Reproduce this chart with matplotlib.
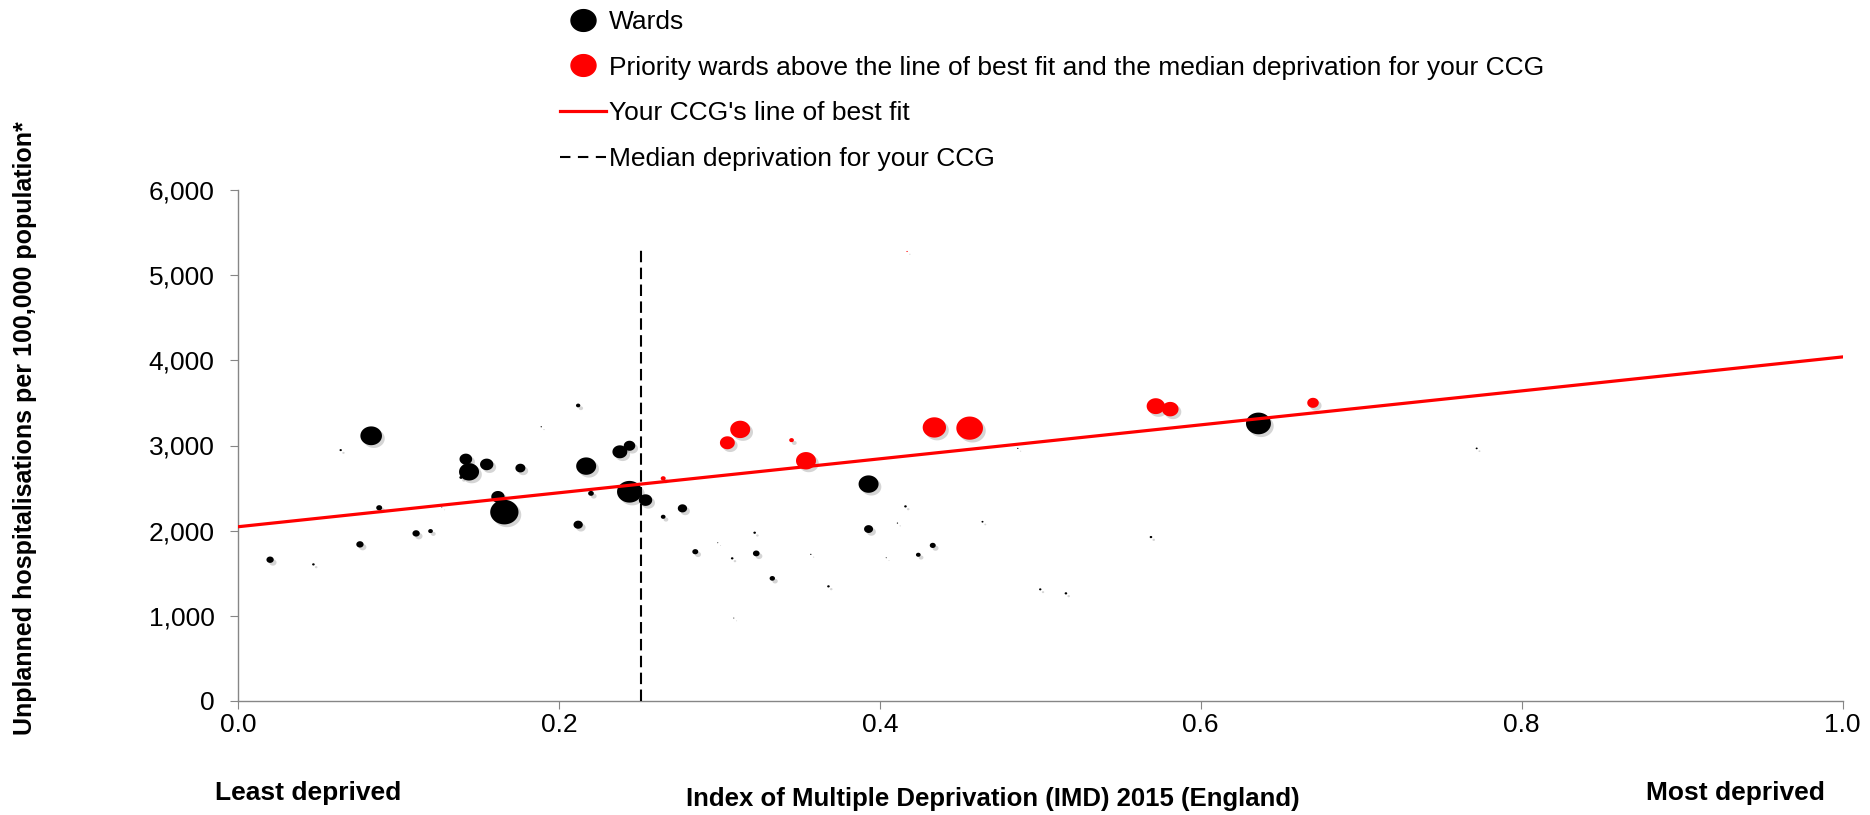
import numpy as np
import matplotlib.pyplot as plt
import matplotlib.transforms as mtransforms
from matplotlib.path import Path
from matplotlib.lines import Line2D

plt.rcParams['font.family'] = ['Liberation Sans', 'DejaVu Sans']

# wards: IMD 2015 score, unplanned hospitalisations per 100,000, relative population
ward_imd = [0.020, 0.047, 0.064, 0.083, 0.076, 0.088, 0.111, 0.120, 0.127, 0.142,
            0.144, 0.139, 0.155, 0.162, 0.166, 0.176, 0.189, 0.212, 0.217, 0.212,
            0.220, 0.238, 0.244, 0.244, 0.254, 0.265, 0.277, 0.285, 0.299, 0.308,
            0.309, 0.322, 0.323, 0.333, 0.357, 0.368, 0.393, 0.393, 0.404, 0.411,
            0.416, 0.424, 0.433, 0.464, 0.486, 0.500, 0.516, 0.569, 0.636, 0.772]
ward_rate = [1659, 1604, 2946, 3114, 1839, 2269, 1968, 1995, 2277, 2840,
             2691, 2625, 2778, 2398, 2218, 2735, 3220, 3470, 2758, 2070,
             2438, 2926, 2997, 2457, 2359, 2163, 2262, 1753, 1858, 1675,
             974, 1976, 1733, 1440, 1722, 1346, 2547, 2019, 1682, 2089,
             2285, 1717, 1827, 2105, 2966, 1311, 1264, 1925, 3259, 2966]
ward_pop = [4.8, 0.6, 0.5, 42, 4.8, 3.2, 4.8, 2.0, 0.1, 14.4,
            36, 1.0, 16, 16, 72, 9, 0.16, 1.7, 36, 7.8,
            2.9, 20, 12, 56, 16, 2.0, 7.8, 3.2, 0.1, 0.6,
            0.1, 0.6, 4.0, 2.6, 0.16, 0.6, 36, 7.3, 0.1, 0.16,
            0.6, 2.0, 3.2, 0.36, 0.16, 0.5, 0.6, 0.6, 56, 0.36]

# priority wards (above line of best fit and median deprivation)
prio_imd = [0.265, 0.305, 0.313, 0.345, 0.354, 0.434, 0.456, 0.572, 0.581, 0.670, 0.417]
prio_rate = [2614, 3032, 3189, 3063, 2821, 3212, 3204, 3462, 3427, 3501, 5278]
prio_pop = [2.25, 20, 36, 2.0, 36, 49, 64, 30, 25, 12, 0.16]

fit_x = [0.0, 1.0]
fit_y = [2046, 4040]
median_imd = 0.251
median_top = 5290

xticks = [0.0, 0.2, 0.4, 0.6, 0.8, 1.0]
yticks = [0, 1000, 2000, 3000, 4000, 5000, 6000]

# slightly wide ellipse marker like the original
t = np.linspace(0, 2 * np.pi, 64)
ell = Path(np.column_stack([np.cos(t), 0.87 * np.sin(t)]), closed=True)

fig = plt.figure(figsize=(18.7, 8.15), dpi=100)
ax = fig.add_axes([238 / 1870, 1 - 701 / 815, 1604.5 / 1870, 511 / 815])

k = 5.76
shadow = ax.transData + mtransforms.ScaledTranslation(2 / 72, -2 / 72, fig.dpi_scale_trans)
ax.scatter(ward_imd, ward_rate, s=np.array(ward_pop) * k, marker=ell, color='#888888',
           alpha=0.35, linewidths=0, transform=shadow, zorder=1)
ax.scatter(prio_imd, prio_rate, s=np.array(prio_pop) * k, marker=ell, color='#888888',
           alpha=0.35, linewidths=0, transform=shadow, zorder=1)
ax.scatter(ward_imd, ward_rate, s=np.array(ward_pop) * k, marker=ell, color='black',
           linewidths=0, zorder=2)
ax.scatter(prio_imd, prio_rate, s=np.array(prio_pop) * k, marker=ell, color='#ff0000',
           linewidths=0, zorder=2)

ax.plot(fit_x, fit_y, color='#ff0000', lw=2.3, zorder=3)
ax.plot([median_imd, median_imd], [0, median_top], color='black', lw=1.5,
        linestyle=(0, (5.5, 2.6)), zorder=3)

ax.set_xlim(0, 1.0)
ax.set_ylim(0, 6000)
ax.set_xticks(xticks)
ax.set_xticklabels([f'{v:.1f}' for v in xticks])
ax.set_yticks(yticks)
ax.set_yticklabels([f'{v:,}' for v in yticks])
for s in ['top', 'right']:
    ax.spines[s].set_visible(False)
for s in ['left', 'bottom']:
    ax.spines[s].set_color('#868686')
    ax.spines[s].set_linewidth(1.0)
ax.tick_params(axis='y', direction='out', length=6, color='#868686', pad=11, labelsize=19)
ax.tick_params(axis='x', direction='out', length=6, color='#868686', pad=3, labelsize=19)

fig.text(25 / 1870, 1 - 428 / 815, 'Unplanned hospitalisations per 100,000 population*',
         rotation=90, ha='center', va='center', fontsize=18, fontweight='bold')
fig.text(215 / 1870, 1 - 793 / 815, 'Least deprived', ha='left', va='center',
         fontsize=19, fontweight='bold')
fig.text(1825 / 1870, 1 - 793 / 815, 'Most deprived', ha='right', va='center',
         fontsize=19, fontweight='bold')
fig.text(993 / 1870, 1 - 799 / 815, 'Index of Multiple Deprivation (IMD) 2015 (England)',
         ha='center', va='center', fontsize=18.5, fontweight='bold')

handles = [
    Line2D([], [], marker=ell, color='black', markersize=18, linestyle='none'),
    Line2D([], [], marker=ell, color='#ff0000', markersize=18, linestyle='none'),
    Line2D([], [], color='#ff0000', lw=2.3),
    Line2D([], [], color='black', lw=1.5, linestyle=(0, (5.0, 3.6))),
]
labels = ['Wards',
          'Priority wards above the line of best fit and the median deprivation for your CCG',
          "Your CCG's line of best fit",
          'Median deprivation for your CCG']
fig.legend(handles, labels, loc='upper left', bbox_to_anchor=(560 / 1870, 1 - 10 / 815),
           frameon=False, fontsize=19, borderpad=0, borderaxespad=0,
           handlelength=1.75, handletextpad=0.1, labelspacing=0.82)

fig.savefig('out.png', dpi=100)
